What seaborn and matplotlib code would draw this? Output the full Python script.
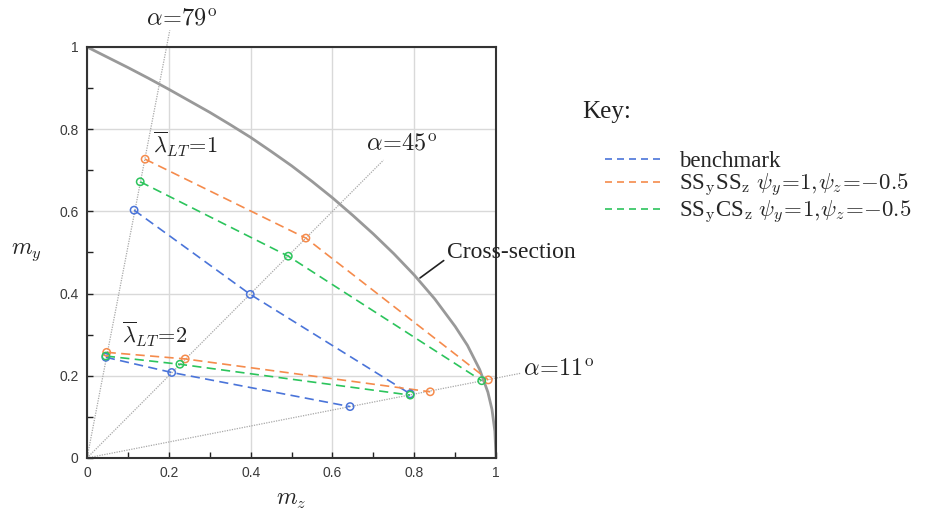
import numpy as np
import pandas as pd
import matplotlib
matplotlib.use("Agg")
import matplotlib.pyplot as plt
import seaborn as sns
from matplotlib.lines import Line2D

# ---------------- data ----------------
# cross-section interaction curve
cs_mz = [0.0, 0.05, 0.1, 0.15, 0.2, 0.25, 0.3, 0.35, 0.4, 0.45, 0.5, 0.55, 0.6, 0.65, 0.7,
         0.75, 0.8, 0.85, 0.9, 0.93, 0.96, 0.98, 0.99, 0.997, 1.0]
cs_my = [1.0, 0.975, 0.950, 0.924, 0.897, 0.869, 0.841, 0.811, 0.780, 0.746, 0.711, 0.673,
         0.633, 0.590, 0.545, 0.497, 0.445, 0.387, 0.320, 0.274, 0.215, 0.160, 0.118, 0.065, 0.0]

# benchmark
bm_l1_mz = [0.115, 0.399, 0.790]
bm_l1_my = [0.603, 0.398, 0.156]
bm_l2_mz = [0.046, 0.207, 0.643]
bm_l2_my = [0.245, 0.208, 0.125]
# SSySSz
ss_l1_mz = [0.142, 0.535, 0.981]
ss_l1_my = [0.727, 0.535, 0.190]
ss_l2_mz = [0.048, 0.240, 0.839]
ss_l2_my = [0.257, 0.241, 0.161]
# SSyCSz
cs2_l1_mz = [0.130, 0.492, 0.965]
cs2_l1_my = [0.672, 0.491, 0.188]
cs2_l2_mz = [0.046, 0.227, 0.790]
cs2_l2_my = [0.248, 0.228, 0.153]

series_labels = ["benchmark",
                 r"SS$_{\mathrm{y}}$SS$_{\mathrm{z}}$ $\psi_y\!=\!1,\!\psi_z\!=\!{-}0.5$",
                 r"SS$_{\mathrm{y}}$CS$_{\mathrm{z}}$ $\psi_y\!=\!1,\!\psi_z\!=\!{-}0.5$"]
series_colors = ["#4a74d9", "#f58b4c", "#2cc45c"]

alpha_deg = [79, 45, 11]
alpha_len = [1.06, 1.025, 1.08]

ticks = [0, 0.2, 0.4, 0.6, 0.8, 1]
tick_labels = ["0", "0.2", "0.4", "0.6", "0.8", "1"]

# ---------------- style ----------------
sns.set_theme(style="white")
plt.rcParams["font.family"] = ["Liberation Serif", "DejaVu Serif"]
plt.rcParams["mathtext.fontset"] = "cm"

fig = plt.figure(figsize=(9.36, 5.14), dpi=100)
ax = fig.add_axes([0.093, 0.109, 0.437, 0.7996])

ax.set_xlim(0, 1)
ax.set_ylim(0, 1)
ax.set_xticks(ticks)
ax.set_yticks(ticks)
ax.set_xticks(np.arange(0.1, 1.0, 0.2), minor=True)
ax.set_yticks(np.arange(0.1, 1.0, 0.2), minor=True)
ax.grid(True, which="major", color="#d9d9d9", lw=1.0)
ax.set_axisbelow(True)
ax.set_xticklabels(tick_labels, family=["Liberation Sans", "DejaVu Sans"], fontsize=10, color="#3a3a3a")
ax.set_yticklabels(tick_labels, family=["Liberation Sans", "DejaVu Sans"], fontsize=10, color="#3a3a3a")
ax.tick_params(which="both", direction="in", length=4, width=1, color="#222222",
               bottom=True, left=True, top=False, right=False, pad=6)
for sp in ax.spines.values():
    sp.set_color("#333333")
    sp.set_linewidth(1.5)

# reference alpha lines
for a, L in zip(alpha_deg, alpha_len):
    r = np.array([0.0, L])
    ax.plot(r * np.cos(np.radians(a)), r * np.sin(np.radians(a)), ls=(0, (1, 1)),
            color="#a8a8a8", lw=0.9, clip_on=False, zorder=1)

# cross-section curve
sns.lineplot(x=cs_mz, y=cs_my, sort=False, color="#999999", lw=2.0, ax=ax, zorder=2)

# series
groups = [
    (bm_l1_mz, bm_l1_my, bm_l2_mz, bm_l2_my),
    (ss_l1_mz, ss_l1_my, ss_l2_mz, ss_l2_my),
    (cs2_l1_mz, cs2_l1_my, cs2_l2_mz, cs2_l2_my),
]
for (x1, y1, x2, y2), col in zip(groups, series_colors):
    for xs, ys in [(x1, y1), (x2, y2)]:
        sns.lineplot(x=xs, y=ys, sort=False, color=col, lw=1.2,
                     linestyle=(0, (5.5, 3.2)), ax=ax, zorder=3)
        sns.scatterplot(x=xs, y=ys, marker="o", s=28, facecolor="none",
                        edgecolor=col, linewidth=1.1, ax=ax, zorder=4, clip_on=False)

# annotations
tc = "#222222"
ax.text(0.232, 1.066, r"$\alpha\!=\!79^{\rm o}$", fontsize=17.5, ha="center", va="center",
        clip_on=False, color=tc)
ax.text(0.770, 0.762, r"$\alpha\!=\!45^{\rm o}$", fontsize=17.5, ha="center", va="center",
        clip_on=False, color=tc)
ax.text(1.066, 0.214, r"$\alpha\!=\!11^{\rm o}$", fontsize=17.5, ha="left", va="center",
        clip_on=False, color=tc)
ax.text(0.162, 0.762, r"$\overline{\lambda}_{LT}\!=\!1$", fontsize=16, ha="left", va="center",
        color=tc)
ax.text(0.086, 0.300, r"$\overline{\lambda}_{LT}\!=\!2$", fontsize=16, ha="left", va="center",
        color=tc)
ax.annotate("Cross-section", xy=(0.814, 0.438), xytext=(0.880, 0.499),
            fontsize=17, ha="left", va="center", color=tc,
            arrowprops=dict(arrowstyle="-", color=tc, lw=1.2,
                            shrinkA=0, shrinkB=0, relpos=(0, 0.25)),
            annotation_clip=False)

ax.set_xlabel(r"$m_z$", fontsize=17, labelpad=7)
ax.set_ylabel(r"$m_y$", fontsize=17, rotation=0, labelpad=26, va="center")
ax.yaxis.set_label_coords(-0.148, 0.50)

# legend
handles = [Line2D([0], [0], color=c, lw=1.2, linestyle=(0, (4.2, 3))) for c in series_colors]
fig.text(0.622, 0.782, "Key:", fontsize=18, ha="left", va="center", color=tc)
fig.legend(handles, series_labels, loc="upper left", bbox_to_anchor=(0.646, 0.706),
           frameon=False, fontsize=16.5, handlelength=2.6, handletextpad=0.65,
           labelspacing=0.0, borderaxespad=0, borderpad=0)

fig.savefig("out.png", dpi=100)
